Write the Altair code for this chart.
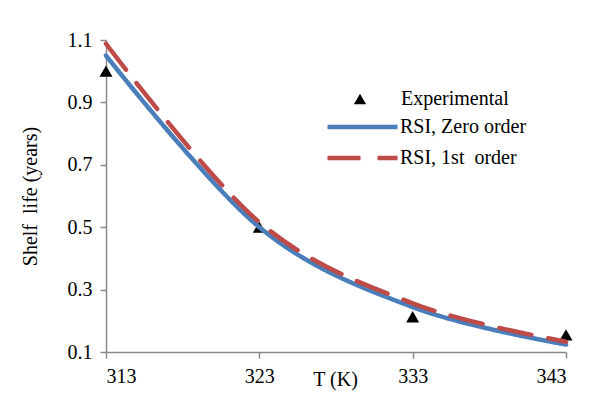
import altair as alt
import pandas as pd

# ---- data ----
T_exp = [313, 323, 333, 343]
shelf_exp = [1.00, 0.50, 0.213, 0.155]

T_rsi = [313, 323, 333, 343]
rsi_zero = [1.05, 0.50, 0.244, 0.124]
rsi_first = [1.088, 0.516, 0.256, 0.133]

x_ticks = [313, 323, 333, 343]
y_ticks = [0.1, 0.3, 0.5, 0.7, 0.9, 1.1]

S_EXP = "Experimental"
S_ZERO = "RSI, Zero order"
S_FIRST = "RSI, 1st\u00a0 order"

BLUE = "#4a7ebb"
RED = "#be4b48"
FONT = "Liberation Serif"
AXIS_GRAY = "#898989"

df_exp = pd.DataFrame({"T": T_exp, "shelf": shelf_exp, "series": S_EXP})
df_lines = pd.concat([
    pd.DataFrame({"T": T_rsi, "shelf": rsi_zero, "series": S_ZERO}),
    pd.DataFrame({"T": T_rsi, "shelf": rsi_first, "series": S_FIRST}),
], ignore_index=True)

x_enc = alt.X(
    "T:Q",
    scale=alt.Scale(domain=[313, 343], nice=False, zero=False),
    axis=alt.Axis(
        values=x_ticks, format="d", title="T (K)", grid=False,
        titleX=229, titleY=33, titleAlign="center", titleBaseline="alphabetic",
        labelPadding=8, labelFont=FONT, titleFont=FONT,
    ),
)
y_enc = alt.Y(
    "shelf:Q",
    scale=alt.Scale(domain=[0.1, 1.1], nice=False, zero=False),
    axis=alt.Axis(
        values=y_ticks, format=".1f", title="Shelf\u00a0 life (years)", grid=False,
        titleX=-76, titleY=156, titleAngle=-90, titleAlign="center",
        titleBaseline="middle", labelPadding=8, labelFont=FONT, titleFont=FONT,
    ),
)

line_legend = alt.Legend(
    title=None, orient="none", legendX=219, legendY=78,
    symbolType="stroke", symbolSize=4900, symbolStrokeWidth=4.5,
    clipHeight=18, rowPadding=11, labelOffset=0, padding=0,
    labelFont=FONT, labelFontSize=20, labelColor="black", labelLimit=400,
)

lines = alt.Chart(df_lines).mark_line(
    interpolate="cardinal", strokeWidth=4.5, strokeCap="round"
).encode(
    x=x_enc, y=y_enc,
    color=alt.Color("series:N",
                    scale=alt.Scale(domain=[S_ZERO, S_FIRST], range=[BLUE, RED]),
                    legend=line_legend),
    strokeDash=alt.StrokeDash("series:N",
                              scale=alt.Scale(domain=[S_ZERO, S_FIRST],
                                              range=[[1, 0], [33, 17]]),
                              legend=line_legend),
)

points = alt.Chart(df_exp).mark_point(
    filled=True, color="black", opacity=1, size=170
).encode(
    x=x_enc, y=y_enc,
    shape=alt.Shape("series:N",
                    scale=alt.Scale(domain=[S_EXP], range=["triangle-up"]),
                    legend=alt.Legend(
                        title=None, orient="none", legendX=244, legendY=49,
                        symbolSize=150, symbolFillColor="black", symbolStrokeWidth=0,
                        labelOffset=31, padding=0,
                        labelFont=FONT, labelFontSize=20, labelColor="black",
                    )),
)

chart = alt.layer(points, lines).properties(
    width=460, height=312,
    padding={"left": 98, "top": 32, "right": 33, "bottom": 45},
    autosize=alt.AutoSizeParams(type="none"),
).configure(font=FONT).configure_view(stroke=None).configure_axis(
    labelFont=FONT, labelFontSize=20, labelColor="black",
    titleFont=FONT, titleFontSize=20, titleColor="black", titleFontWeight="normal",
    domainColor=AXIS_GRAY, domainWidth=1.5, tickColor=AXIS_GRAY, tickWidth=1.5,
    tickSize=6,
).configure_legend(labelFont=FONT)

chart.save("out.html", embed_options={"renderer": "svg", "actions": False})
